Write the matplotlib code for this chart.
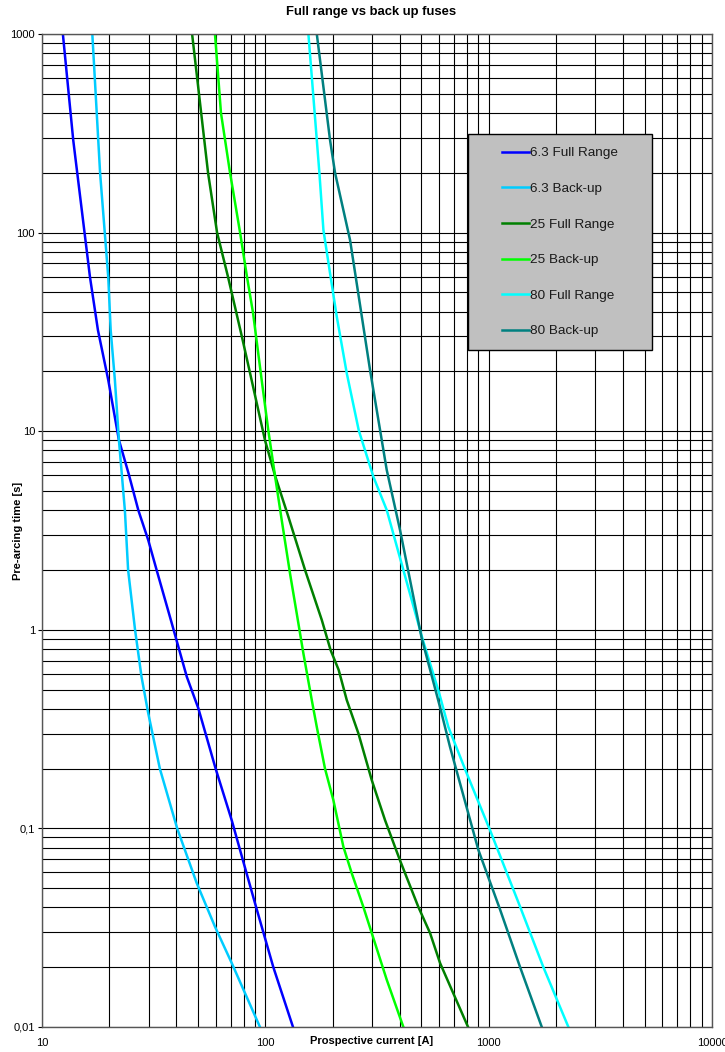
import matplotlib.pyplot as plt
from matplotlib.patches import Rectangle
from matplotlib.ticker import LogLocator, NullFormatter

plt.rcParams['font.family'] = ['Liberation Sans', 'DejaVu Sans']

# 6.3 A fuses
i_63_full = [12.4, 13.8, 16.4, 17.8, 19.8, 22.1, 24.4, 27.0, 29.9, 32.6, 38.1, 44.5,
             50.1, 59.9, 70.7, 79.4, 89.9, 108.6, 133]
t_63_full = [1000, 292, 59.7, 32.3, 18.1, 9.03, 6.14, 4.0, 2.83, 2.0, 1.08, 0.58,
             0.403, 0.2, 0.110, 0.069, 0.042, 0.02, 0.01]
i_63_bu = [16.8, 18.2, 19.8, 20.3, 21.2, 22.1, 23.5, 24.3, 26.1, 27.9, 29.9, 33.7,
           40.3, 49.3, 59.5, 70.7, 94.6]
t_63_bu = [1000, 200, 59.7, 32.3, 18.1, 9.03, 4.0, 2.0, 1.0, 0.58, 0.380, 0.2,
           0.1, 0.053, 0.032, 0.021, 0.01]

# 25 A fuses
i_25_full = [47.0, 55.4, 60.8, 68.1, 78.6, 86.8, 99.6, 110.4, 126.8, 150.6, 179, 196,
             213, 231.5, 261, 299.6, 343.6, 400.9, 484, 546.6, 605.7, 808.5]
t_25_full = [1000, 200, 100, 59.7, 29.8, 18.1, 9.03, 6.0, 3.71, 2.0, 1.12, 0.79,
             0.628, 0.443, 0.301, 0.175, 0.110, 0.069, 0.0403, 0.0297, 0.021, 0.01]
i_25_bu = [59.5, 63.3, 69.5, 77.0, 82.8, 88.1, 96.3, 103.1, 110.4, 118.4, 129.0, 138.2,
           148.0, 161.4, 170.0, 185, 201.6, 223.5, 243.8, 274.6, 299.6, 349.6, 415]
t_25_bu = [1000, 400, 200, 100.7, 59.7, 39.4, 18.1, 10.1, 6.0, 3.57, 1.92, 1.21,
           0.762, 0.443, 0.324, 0.2, 0.139, 0.081, 0.0594, 0.0403, 0.0297, 0.0173, 0.01]

# 80 A fuses
i_80_full = [155.9, 164.1, 174.6, 182.0, 194.9, 208.9, 231.5, 262, 304.6, 349.6, 415,
             505.8, 599.8, 660, 797.9, 1014, 1383, 1758, 2275]
t_80_full = [1000, 483, 200, 103, 62.4, 37.7, 19.6, 10.1, 5.90, 4.01, 2.0,
             0.899, 0.481, 0.324, 0.189, 0.098, 0.0403, 0.020, 0.01]
i_80_bu = [170.0, 194.9, 205.2, 239.5, 294.4, 349.6, 401, 501, 605.7, 671.4, 899,
           1125, 1383, 1729]
t_80_bu = [1000, 292, 200, 91.8, 20.3, 6.38, 3.18, 0.91, 0.408, 0.257, 0.078,
           0.039, 0.020, 0.01]

y_ticks = [0.01, 0.1, 1, 10, 100, 1000]
y_labels = ['0,01', '0,1', '1', '10', '100', '1000']
x_ticks = [10, 100, 1000, 10000]
x_labels = ['10', '100', '1000', '10000']

W, H = 725, 1052
fig = plt.figure(figsize=(W / 100, H / 100), dpi=100)
ax = fig.add_axes([42 / W, 1 - 1027 / H, 670 / W, 993 / H])

ax.plot(i_63_full, t_63_full, color='#0000FF', lw=1.8, label='6.3 Full Range')
ax.plot(i_63_bu, t_63_bu, color='#00CCFF', lw=1.8, label='6.3 Back-up')
ax.plot(i_25_full, t_25_full, color='#008000', lw=1.8, label='25 Full Range')
ax.plot(i_25_bu, t_25_bu, color='#00FF00', lw=1.8, label='25 Back-up')
ax.plot(i_80_full, t_80_full, color='#00FFFF', lw=1.8, label='80 Full Range')
ax.plot(i_80_bu, t_80_bu, color='#008080', lw=1.8, label='80 Back-up')

ax.set_xscale('log')
ax.set_yscale('log')
ax.set_xlim(10, 10000)
ax.set_ylim(0.01, 1000)
ax.xaxis.set_minor_locator(LogLocator(base=10, subs=range(2, 10)))
ax.yaxis.set_minor_locator(LogLocator(base=10, subs=range(2, 10)))
ax.xaxis.set_minor_formatter(NullFormatter())
ax.yaxis.set_minor_formatter(NullFormatter())
ax.set_xticks(x_ticks, x_labels)
ax.set_yticks(y_ticks, y_labels)
ax.grid(which='both', color='black', lw=0.8)
ax.set_axisbelow(True)
ax.tick_params(which='minor', length=0)
ax.tick_params(axis='x', which='major', length=0, pad=8, labelsize=8)
ax.tick_params(axis='y', which='major', length=3, width=0.8, pad=2, labelsize=8)
for s in ax.spines.values():
    s.set_color('#555555')
    s.set_linewidth(1.0)

ax.set_xlabel('Prospective current [A]', fontsize=8, fontweight='bold')
ax.xaxis.set_label_coords((372 - 42) / 670, -0.009)
ax.set_ylabel('Pre-arcing time [s]', fontsize=8, fontweight='bold')
ax.yaxis.set_label_coords((23 - 42) / 670, 0.5)
fig.text(371 / W, 1 - 12 / H, 'Full range vs back up fuses', ha='center', va='center',
         fontsize=9.4, fontweight='bold')

# legend box
box = Rectangle((468 / W, 1 - 350 / H), 184 / W, 216 / H, transform=fig.transFigure,
                facecolor='#C0C0C0', edgecolor='black', lw=1.0, zorder=5, clip_on=False)
ax.add_patch(box)
leg = ax.legend(loc='upper left', bbox_to_anchor=(502 / W, 1 - 147 / H),
                bbox_transform=fig.transFigure, frameon=False, fontsize=9.7,
                borderpad=0, borderaxespad=0, handlelength=2.0, handletextpad=0.1,
                labelspacing=1.72)
leg.set_zorder(6)
for txt in leg.get_texts():
    txt.set_color('#1a1a1a')

fig.savefig('out.png', dpi=100)
